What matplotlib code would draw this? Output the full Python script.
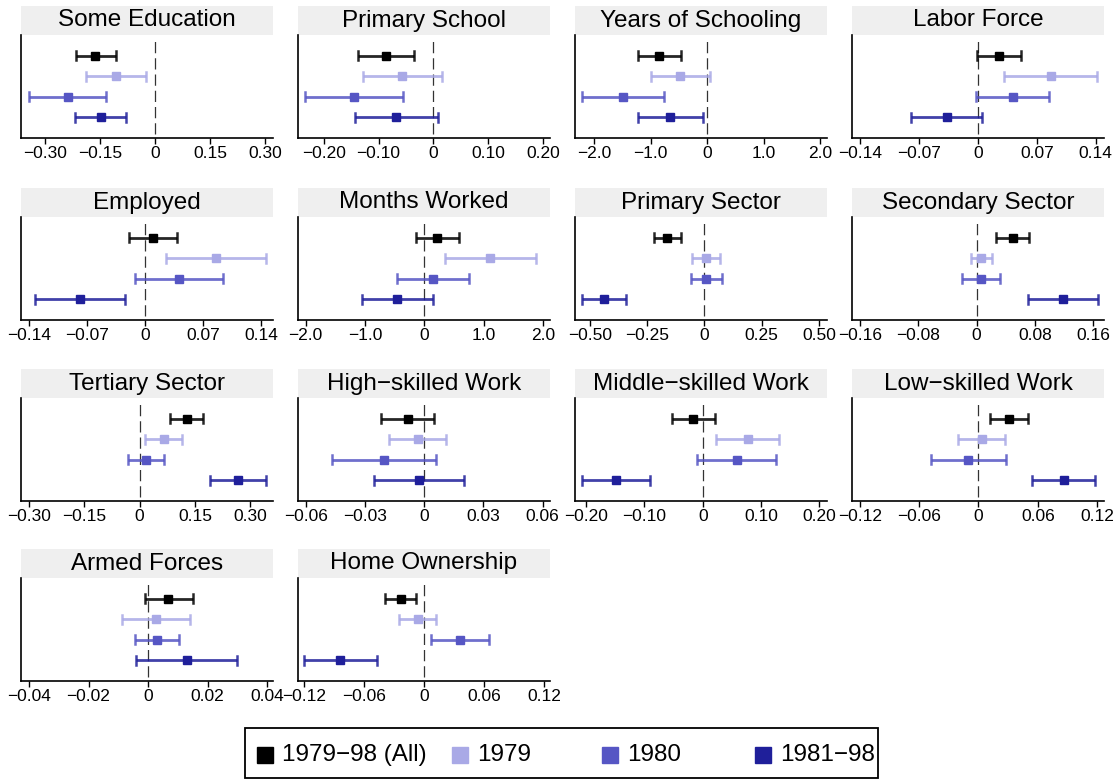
import matplotlib
matplotlib.use('Agg')
import matplotlib.pyplot as plt
from matplotlib.patches import Rectangle
from matplotlib.lines import Line2D

plt.rcParams['font.family'] = ['Liberation Sans', 'DejaVu Sans']

# panel titles, in reading order
titles = ['Some Education', 'Primary School', 'Years of Schooling', 'Labor Force',
          'Employed', 'Months Worked', 'Primary Sector', 'Secondary Sector',
          'Tertiary Sector', 'High\u2212skilled Work', 'Middle\u2212skilled Work',
          'Low\u2212skilled Work', 'Armed Forces', 'Home Ownership']

# point estimates and 95% CI bounds, one list per sample
all_est = [-0.162, -0.087, -0.846, 0.0246, 0.0096, 0.22, -0.162, 0.0496, 0.128, -0.0083, -0.016, 0.0305, 0.0067, -0.023]
all_lo = [-0.215, -0.137, -1.225, -0.001, -0.0193, -0.146, -0.220, 0.0271, 0.083, -0.0218, -0.0527, 0.0115, -0.001, -0.039]
all_hi = [-0.106, -0.035, -0.456, 0.051, 0.0378, 0.59, -0.1035, 0.0716, 0.172, 0.0049, 0.0218, 0.0502, 0.0151, -0.008]

y79_est = [-0.106, -0.057, -0.473, 0.0864, 0.0856, 1.115, 0.0087, 0.006, 0.065, -0.0032, 0.0768, 0.0034, 0.0027, -0.006]
y79_lo = [-0.188, -0.129, -1.0, 0.0305, 0.0257, 0.355, -0.054, -0.0078, 0.0153, -0.0176, 0.0223, -0.0203, -0.0087, -0.025]
y79_hi = [-0.023, 0.016, 0.053, 0.1415, 0.145, 1.88, 0.070, 0.0207, 0.1146, 0.011, 0.130, 0.0271, 0.0141, 0.012]

y80_est = [-0.238, -0.145, -1.485, 0.0416, 0.041, 0.152, 0.0087, 0.0064, 0.0162, -0.0203, 0.0585, -0.0102, 0.003, 0.036]
y80_lo = [-0.343, -0.234, -2.213, -0.0024, -0.012, -0.456, -0.060, -0.0193, -0.0325, -0.0465, -0.0103, -0.0485, -0.0044, 0.007]
y80_hi = [-0.132, -0.055, -0.763, 0.0844, 0.094, 0.755, 0.0758, 0.0317, 0.065, 0.0059, 0.1255, 0.0278, 0.0104, 0.065]

y8198_est = [-0.148, -0.068, -0.651, -0.0372, -0.078, -0.456, -0.437, 0.1185, 0.266, -0.0025, -0.148, 0.0864, 0.013, -0.084]
y8198_lo = [-0.219, -0.143, -1.225, -0.0796, -0.133, -1.054, -0.534, 0.0702, 0.191, -0.0255, -0.207, 0.0546, -0.004, -0.12]
y8198_hi = [-0.079, 0.009, -0.083, 0.0048, -0.0237, 0.146, -0.343, 0.1667, 0.341, 0.0203, -0.0911, 0.118, 0.0299, -0.047]

# x tick labels and axis ranges per panel
tick_labels = [
    ['\u22120.30', '\u22120.15', '0', '0.15', '0.30'],
    ['\u22120.20', '\u22120.10', '0', '0.10', '0.20'],
    ['\u22122.0', '\u22121.0', '0', '1.0', '2.0'],
    ['\u22120.14', '\u22120.07', '0', '0.07', '0.14'],
    ['\u22120.14', '\u22120.07', '0', '0.07', '0.14'],
    ['\u22122.0', '\u22121.0', '0', '1.0', '2.0'],
    ['\u22120.50', '\u22120.25', '0', '0.25', '0.50'],
    ['\u22120.16', '\u22120.08', '0', '0.08', '0.16'],
    ['\u22120.30', '\u22120.15', '0', '0.15', '0.30'],
    ['\u22120.06', '\u22120.03', '0', '0.03', '0.06'],
    ['\u22120.20', '\u22120.10', '0', '0.10', '0.20'],
    ['\u22120.12', '\u22120.06', '0', '0.06', '0.12'],
    ['\u22120.04', '\u22120.02', '0', '0.02', '0.04'],
    ['\u22120.12', '\u22120.06', '0', '0.06', '0.12'],
]
xlims = [(-0.365, 0.322), (-0.247, 0.213), (-2.34, 2.12), (-0.150, 0.150),
         (-0.1495, 0.154), (-2.13, 2.12), (-0.564, 0.535), (-0.171, 0.175),
         (-0.321, 0.361), (-0.0639, 0.0637), (-0.219, 0.213), (-0.128, 0.127),
         (-0.0427, 0.042), (-0.126, 0.126)]

series_names = ['1979\u221298 (All)', '1979', '1980', '1981\u221298']
series_colors = ['#000000', '#a9a9e6', '#5656c4', '#1f1f9a']
series = [(all_est, all_lo, all_hi), (y79_est, y79_lo, y79_hi),
          (y80_est, y80_lo, y80_hi), (y8198_est, y8198_lo, y8198_hi)]

W, H = 1118, 780
fig = plt.figure(figsize=(W / 100, H / 100), dpi=100)

col_left = [21, 298, 575, 852]
row_top = [35, 217, 398, 578]
ax_w, ax_h, box_h = 252, 103, 29

for i, title in enumerate(titles):
    r, c = divmod(i, 4)
    ax = fig.add_axes([col_left[c] / W, 1 - (row_top[r] + ax_h) / H, ax_w / W, ax_h / H])

    for k, (est, lo, hi) in enumerate(series):
        yy = k + 1
        ax.plot([lo[i], hi[i]], [yy, yy], color=series_colors[k], lw=2.0, alpha=0.85,
                solid_capstyle='butt')
        ax.plot([lo[i], lo[i]], [yy - 0.22, yy + 0.22], color=series_colors[k], lw=1.8, alpha=0.85)
        ax.plot([hi[i], hi[i]], [yy - 0.22, yy + 0.22], color=series_colors[k], lw=1.8, alpha=0.85)
        ax.plot(est[i], yy, 's', color=series_colors[k], markersize=6)

    ax.axvline(0, ymin=0.04, ymax=0.94, color='#333333', lw=0.9, dashes=(9, 4), zorder=0)

    ax.set_ylim(5, 0)
    ax.set_xlim(*xlims[i])
    ticks = [float(t.replace('\u2212', '-')) for t in tick_labels[i]]
    ax.set_xticks(ticks)
    ax.set_xticklabels(tick_labels[i], fontsize=12.5)
    ax.set_yticks([])
    ax.tick_params(axis='x', length=4, width=1, pad=2)
    for s in ['top', 'right']:
        ax.spines[s].set_visible(False)
    ax.spines['left'].set_linewidth(1.2)
    ax.spines['bottom'].set_linewidth(1.2)

    # grey title strip
    ax.add_patch(Rectangle((0, 1), 1, box_h / ax_h, transform=ax.transAxes,
                           facecolor='#efefef', edgecolor='none', clip_on=False))
    ax.text(0.5, 1 + box_h / ax_h / 2, title, transform=ax.transAxes,
            ha='center', va='center', fontsize=17.5)

# legend drawn by hand so the keys sit where the original puts them
fig.add_artist(Rectangle((245 / W, 1 - 778 / H), 633 / W, 50 / H, transform=fig.transFigure,
                         facecolor='white', edgecolor='black', lw=1.3))
key_x = [265, 460, 610, 763]
for k, name in enumerate(series_names):
    fig.add_artist(Line2D([key_x[k] / W], [1 - 755 / H], transform=fig.transFigure,
                          marker='s', linestyle='none', color=series_colors[k], markersize=11))
    fig.text((key_x[k] + 17) / W, 1 - 755 / H, name, ha='left', va='center', fontsize=17.5)

fig.savefig('out.png', dpi=100, facecolor='white')
